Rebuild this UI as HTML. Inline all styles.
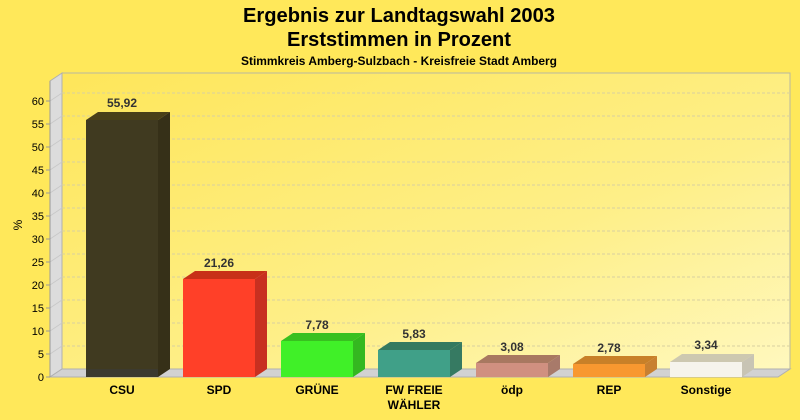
<!DOCTYPE html>
<html><head><meta charset="utf-8"><style>
html,body{margin:0;padding:0;background:#ffe85a;}
svg{display:block;font-family:"Liberation Sans",Arial,sans-serif;}
</style></head><body>
<svg width="800" height="420" viewBox="0 0 800 420" xmlns="http://www.w3.org/2000/svg">
<defs>
<linearGradient id="wall" x1="0" y1="0" x2="1" y2="1">
<stop offset="0" stop-color="#fee65a"/><stop offset="0.6" stop-color="#feef88"/><stop offset="1" stop-color="#fff8be"/>
</linearGradient>
</defs>
<rect width="800" height="420" fill="#ffe85a"/>
<text x="399" y="22" font-size="20" font-weight="bold" text-anchor="middle" textLength="312" lengthAdjust="spacingAndGlyphs">Ergebnis zur Landtagswahl 2003</text>
<text x="399" y="46" font-size="20" font-weight="bold" text-anchor="middle" textLength="224" lengthAdjust="spacingAndGlyphs">Erststimmen in Prozent</text>
<text x="399" y="65" font-size="12" font-weight="bold" text-anchor="middle" textLength="316" lengthAdjust="spacingAndGlyphs">Stimmkreis Amberg-Sulzbach - Kreisfreie Stadt Amberg</text>
<!-- back wall -->
<rect x="62" y="73" width="728" height="296" fill="url(#wall)" stroke="#b8b8a0" stroke-width="1"/>
<!-- left wall -->
<polygon points="50,81 62,73 62,369 50,377" fill="#dcdcdc" stroke="#b0b0b0"/>
<!-- floor -->
<polygon points="50,377 62,369 790,369 778,377" fill="#d2d2d2" stroke="#b0b0b0"/>
<g stroke="#d8d0a0" stroke-dasharray="3,2" stroke-width="1">
<line x1="62" y1="93" x2="790" y2="93"/><line x1="62" y1="116" x2="790" y2="116"/>
<line x1="62" y1="139" x2="790" y2="139"/><line x1="62" y1="162" x2="790" y2="162"/>
<line x1="62" y1="185" x2="790" y2="185"/><line x1="62" y1="208" x2="790" y2="208"/>
<line x1="62" y1="231" x2="790" y2="231"/><line x1="62" y1="254" x2="790" y2="254"/>
<line x1="62" y1="277" x2="790" y2="277"/><line x1="62" y1="300" x2="790" y2="300"/>
<line x1="62" y1="323" x2="790" y2="323"/><line x1="62" y1="346" x2="790" y2="346"/>
</g>
<g stroke="#c8c8c8"><line x1="50" y1="101" x2="62" y2="93"/><line x1="50" y1="124" x2="62" y2="116"/><line x1="50" y1="147" x2="62" y2="139"/><line x1="50" y1="170" x2="62" y2="162"/><line x1="50" y1="193" x2="62" y2="185"/><line x1="50" y1="216" x2="62" y2="208"/><line x1="50" y1="239" x2="62" y2="231"/><line x1="50" y1="262" x2="62" y2="254"/><line x1="50" y1="285" x2="62" y2="277"/><line x1="50" y1="308" x2="62" y2="300"/><line x1="50" y1="331" x2="62" y2="323"/><line x1="50" y1="354" x2="62" y2="346"/></g>
<line x1="50" y1="81" x2="50" y2="377" stroke="#999"/>
<g font-size="11" text-anchor="end" fill="#000">
<text x="44" y="105">60</text><text x="44" y="128">55</text><text x="44" y="151">50</text><text x="44" y="174">45</text><text x="44" y="197">40</text><text x="44" y="220">35</text><text x="44" y="243">30</text><text x="44" y="266">25</text><text x="44" y="289">20</text><text x="44" y="312">15</text><text x="44" y="335">10</text><text x="44" y="358">5</text><text x="44" y="381">0</text>
</g>
<g stroke="#999"><line x1="46" y1="101" x2="50" y2="101"/><line x1="46" y1="124" x2="50" y2="124"/><line x1="46" y1="147" x2="50" y2="147"/><line x1="46" y1="170" x2="50" y2="170"/><line x1="46" y1="193" x2="50" y2="193"/><line x1="46" y1="216" x2="50" y2="216"/><line x1="46" y1="239" x2="50" y2="239"/><line x1="46" y1="262" x2="50" y2="262"/><line x1="46" y1="285" x2="50" y2="285"/><line x1="46" y1="308" x2="50" y2="308"/><line x1="46" y1="331" x2="50" y2="331"/><line x1="46" y1="354" x2="50" y2="354"/><line x1="46" y1="377" x2="50" y2="377"/></g>
<text x="22" y="225" font-size="12" text-anchor="middle" transform="rotate(-90 22 225)">%</text>

<!-- bars: x, top -->
<!-- CSU 55.92 top=119.8 -->
<g>
<polygon points="86,120 98,112 170,112 158,120" fill="#4a4018"/>
<polygon points="158,120 170,112 170,369 158,377" fill="#363018"/>
<rect x="86" y="120" width="72" height="257" fill="#403a20"/>
<rect x="86" y="369" width="72" height="8" fill="#3a3a3a" opacity="0.6"/>
</g>
<g>
<polygon points="183,279 195,271 267,271 255,279" fill="#c83018"/>
<polygon points="255,279 267,271 267,369 255,377" fill="#c83020"/>
<rect x="183" y="279" width="72" height="98" fill="#ff4028"/>
</g>
<g>
<polygon points="281,341 293,333 365,333 353,341" fill="#38c020"/>
<polygon points="353,341 365,333 365,369 353,377" fill="#34b820"/>
<rect x="281" y="341" width="72" height="36" fill="#40f028"/>
</g>
<g>
<polygon points="378,350 390,342 462,342 450,350" fill="#347a60"/>
<polygon points="450,350 462,342 462,369 450,377" fill="#367a62"/>
<rect x="378" y="350" width="72" height="27" fill="#40a088"/>
</g>
<g>
<polygon points="476,363 488,355 560,355 548,363" fill="#a87860"/>
<polygon points="548,363 560,355 560,369 548,377" fill="#a87a6a"/>
<rect x="476" y="363" width="72" height="14" fill="#d09080"/>
</g>
<g>
<polygon points="573,364 585,356 657,356 645,364" fill="#c88028"/>
<polygon points="645,364 657,356 657,369 645,377" fill="#c88030"/>
<rect x="573" y="364" width="72" height="13" fill="#f89830"/>
</g>
<g>
<polygon points="670,362 682,354 754,354 742,362" fill="#cdc8b0"/>
<polygon points="742,362 754,354 754,369 742,377" fill="#c8c4b4"/>
<rect x="670" y="362" width="72" height="15" fill="#f6f4ec"/>
</g>
<g font-size="12" font-weight="bold" fill="#333" text-anchor="middle">
<text x="122" y="107">55,92</text><text x="219" y="267">21,26</text><text x="317" y="329">7,78</text><text x="414" y="338">5,83</text><text x="512" y="351">3,08</text><text x="609" y="352">2,78</text><text x="706" y="349">3,34</text>
</g>
<g font-size="12" font-weight="bold" fill="#000" text-anchor="middle">
<text x="122" y="394">CSU</text><text x="219" y="394">SPD</text><text x="317" y="394">GRÜNE</text><text x="414" y="394">FW FREIE</text><text x="414" y="409">WÄHLER</text><text x="512" y="394">ödp</text><text x="609" y="394">REP</text><text x="706" y="394">Sonstige</text>
</g>
</svg>
</body></html>
